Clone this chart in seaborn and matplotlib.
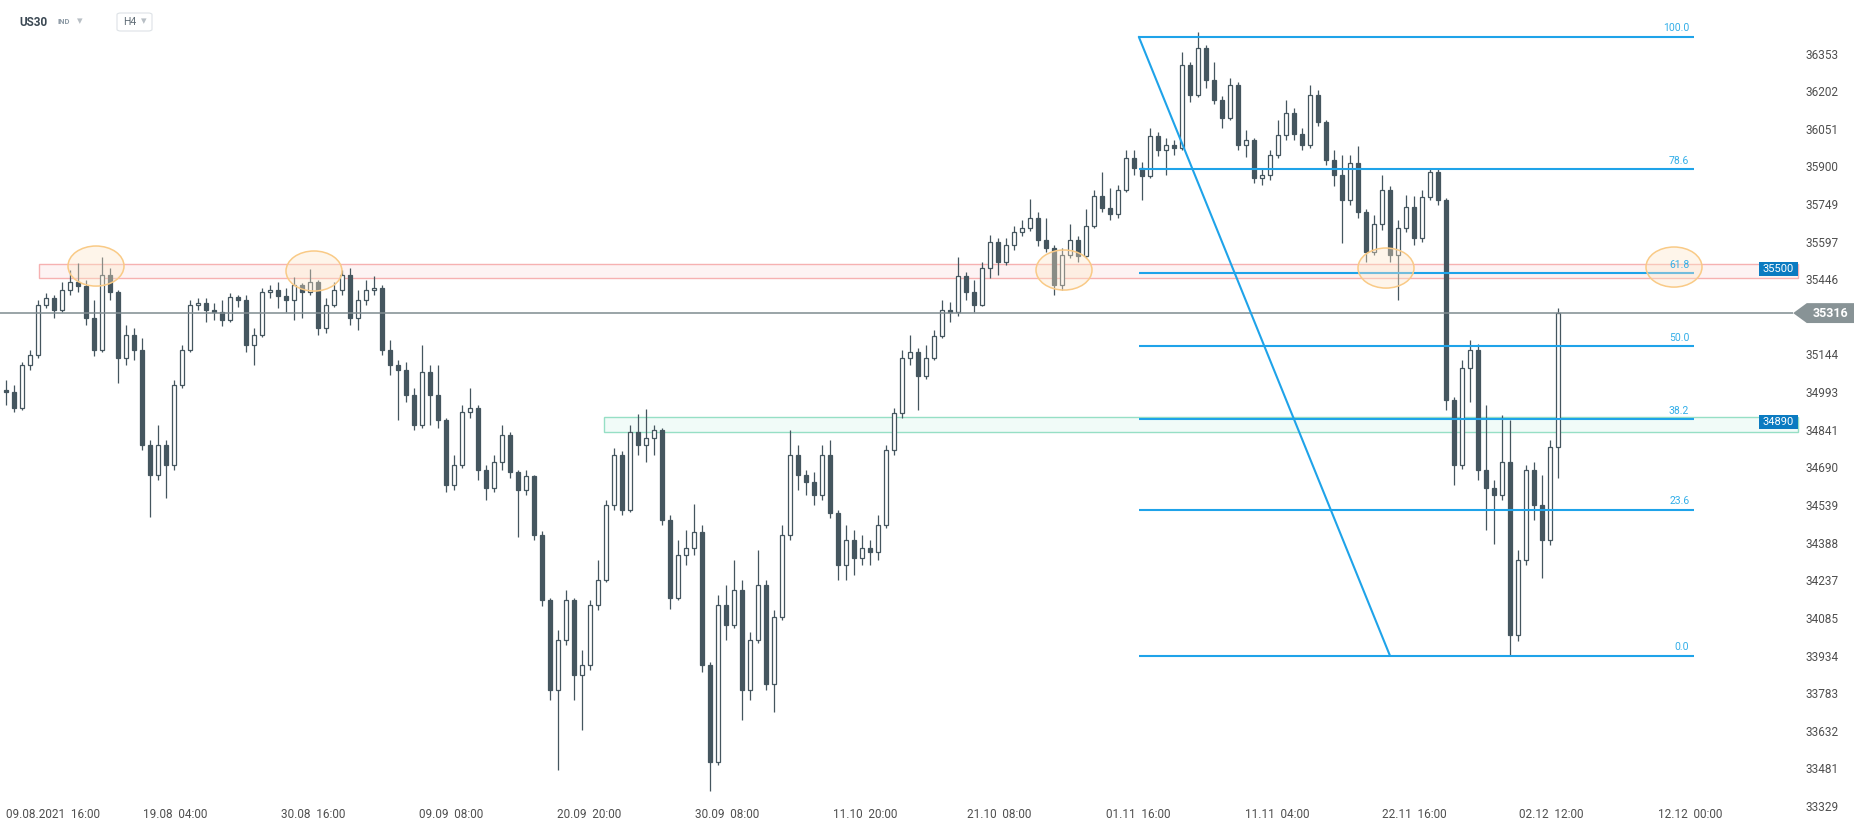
import numpy as np
import pandas as pd
import matplotlib
matplotlib.use("Agg")
import matplotlib.pyplot as plt
import matplotlib.transforms as mtransforms
from matplotlib.patches import Rectangle, Ellipse, Polygon, FancyBboxPatch
import seaborn as sns

# ---------------- data (US30, H4) ----------------
first_open = 35005
closes = [
    34999, 34935, 35108, 35147, 35349, 35377, 35329, 35409, 35441, 35425,
    35296, 35168, 35469, 35400, 35135, 35228, 35168, 34786, 34665, 34786,
    34706, 35027, 35168, 35349, 35357, 35329, 35320, 35288, 35381, 35369,
    35188, 35228, 35400, 35409, 35384, 35369, 35429, 35400, 35441, 35256,
    35349, 35409, 35469, 35296, 35369, 35409, 35417, 35168, 35108, 35088,
    34987, 34867, 35079, 34987, 34886, 34626, 34706, 34918, 34935, 34686,
    34614, 34718, 34826, 34677, 34606, 34661, 34424, 34163, 33802, 34002,
    34163, 33862, 33902, 34143, 34244, 34545, 34746, 34525, 34838, 34786,
    34814, 34847, 34485, 34171, 34344, 34373, 34436, 33902, 33512, 34143,
    34063, 34204, 33802, 34002, 34224, 33826, 34095, 34424, 34746, 34665,
    34637, 34585, 34746, 34512, 34304, 34404, 34332, 34373, 34356, 34465,
    34766, 34914, 35135, 35159, 35063, 35135, 35224, 35329, 35320, 35465,
    35400, 35349, 35498, 35602, 35521, 35590, 35641, 35658, 35698, 35610,
    35578, 35429, 35549, 35610, 35545, 35666, 35786, 35739, 35714, 35811,
    35939, 35899, 35867, 36027, 35972, 35992, 35980, 36313, 36192, 36381,
    36253, 36172, 36100, 36233, 35992, 36011, 35859, 35871, 35951, 36031,
    36120, 36035, 35992, 36192, 36084, 35931, 35871, 35770, 35919, 35722,
    35561, 35674, 35811, 35549, 35658, 35743, 35618, 35782, 35883, 35770,
    34967, 34706, 35096, 35168, 34686, 34614, 34585, 34718, 34022, 34324,
    34686, 34545, 34404, 34778, 35316,
]
highs = [
    35047, 35027, 35120, 35168, 35369, 35396, 35388, 35441, 35490, 35517,
    35449, 35369, 35541, 35498, 35409, 35268, 35256, 35216, 34806, 34867,
    34806, 35047, 35188, 35369, 35377, 35377, 35357, 35369, 35396, 35388,
    35388, 35256, 35417, 35429, 35441, 35417, 35461, 35437, 35494, 35449,
    35377, 35441, 35490, 35498, 35409, 35449, 35465, 35429, 35208, 35128,
    35120, 35015, 35188, 35108, 35108, 34894, 34746, 34947, 35015, 34947,
    34706, 34746, 34867, 34840, 34686, 34686, 34665, 34440, 34171, 34043,
    34204, 34171, 33962, 34163, 34324, 34565, 34774, 34760, 34867, 34910,
    34931, 34867, 34855, 34504, 34404, 34445, 34549, 34465, 33915, 34183,
    34224, 34324, 34244, 34034, 34365, 34244, 34124, 34465, 34847, 34786,
    34686, 34677, 34786, 34806, 34525, 34465, 34445, 34424, 34404, 34504,
    34786, 34935, 35168, 35228, 35176, 35188, 35249, 35369, 35361, 35541,
    35481, 35449, 35521, 35630, 35618, 35618, 35666, 35690, 35774, 35722,
    35698, 35590, 35578, 35674, 35626, 35735, 35811, 35883, 35819, 35831,
    35972, 35972, 35923, 36060, 36043, 36019, 36011, 36365, 36325, 36445,
    36395, 36325, 36188, 36261, 36245, 36052, 36019, 35899, 35972, 36092,
    36172, 36140, 36060, 36233, 36213, 36092, 35972, 35951, 35951, 35988,
    35735, 35710, 35871, 35827, 35690, 35790, 35786, 35811, 35899, 35899,
    35778, 34980, 35128, 35208, 35192, 34947, 34645, 34906, 34886, 34365,
    34706, 34718, 34665, 34806, 35337,
]
lows = [
    34947, 34918, 34927, 35088, 35135, 35337, 35296, 35320, 35388, 35400,
    35268, 35143, 35159, 35369, 35035, 35108, 35128, 34766, 34497, 34645,
    34573, 34686, 35015, 35159, 35329, 35280, 35288, 35264, 35280, 35341,
    35159, 35108, 35220, 35377, 35337, 35320, 35288, 35296, 35390, 35228,
    35236, 35341, 35388, 35268, 35249, 35349, 35388, 35147, 35067, 34886,
    34959, 34847, 34855, 34867, 34855, 34597, 34606, 34694, 34894, 34645,
    34565, 34597, 34686, 34653, 34416, 34585, 34404, 34139, 33761, 33481,
    33983, 33761, 33640, 33882, 34124, 34236, 34525, 34504, 34516, 34746,
    34718, 34746, 34465, 34127, 34163, 34304, 34344, 33875, 33395, 33500,
    34002, 34050, 33681, 33761, 33990, 33802, 33713, 34083, 34404, 34606,
    34585, 34545, 34565, 34493, 34244, 34244, 34263, 34304, 34304, 34324,
    34453, 34746, 34894, 35108, 34927, 35050, 35128, 35216, 35280, 35305,
    35369, 35320, 35345, 35457, 35469, 35509, 35570, 35626, 35645, 35586,
    35561, 35388, 35409, 35537, 35521, 35537, 35658, 35722, 35690, 35698,
    35802, 35871, 35770, 35859, 35947, 35871, 35951, 35972, 36164, 36184,
    36221, 36156, 36060, 36090, 35972, 35943, 35839, 35831, 35851, 35940,
    36011, 36011, 35972, 35980, 36068, 35911, 35827, 35598, 35751, 35698,
    35521, 35549, 35650, 35521, 35369, 35641, 35590, 35602, 35770, 35751,
    34927, 34626, 34690, 34959, 34645, 34445, 34388, 34565, 33938, 34000,
    34304, 34485, 34251, 34384, 34653,
]

price_ticks = [36353, 36202, 36051, 35900, 35749, 35597, 35446, 35295, 35144, 34993,
               34841, 34690, 34539, 34388, 34237, 34085, 33934, 33783, 33632, 33481, 33329]
date_tick_pos = [5.9, 21.1, 38.4, 55.6, 72.9, 90.1, 107.4, 124.2, 141.5, 158.9, 176.1, 193.2, 210.5]
date_labels = ["09.08.2021  16:00", "19.08  04:00", "30.08  16:00", "09.09  08:00",
               "20.09  20:00", "30.09  08:00", "11.10  20:00", "21.10  08:00",
               "01.11  16:00", "11.11  04:00", "22.11  16:00", "02.12  12:00", "12.12  00:00"]

resist_zone = [35456, 35512]
resist_label = "35500"
support_zone = [34840, 34897]
support_label = "34890"
last_price = 35316

fib_high, fib_low = 36426, 33939
fib_levels = [100.0, 78.6, 61.8, 50.0, 38.2, 23.6, 0.0]
fib_high_idx, fib_low_idx, fib_end_idx = 141.6, 173.0, 211.0

highlight_idx = [11.25, 38.5, 132.25, 172.5, 208.5]
highlight_price = [35505, 35485, 35489, 35497, 35501]

# ---------------- style ----------------
sns.set_theme(style="white")
plt.rcParams["font.family"] = ["Roboto", "DejaVu Sans"]

DARK = "#45565f"
FIB = "#1fa3e9"
LABEL = "#4f4f4f"

df = pd.DataFrame({"close": closes, "high": highs, "low": lows})
df["open"] = [first_open] + closes[:-1]
df["idx"] = np.arange(len(df))
df["up"] = df["close"] >= df["open"]
df["bottom"] = df[["open", "close"]].min(axis=1)
df["height"] = (df["close"] - df["open"]).abs().clip(lower=4)

fig = plt.figure(figsize=(18.66, 8.32), dpi=100)
ax = fig.add_axes([0, 0, 1, 1])
ax.set_xlim(-0.75, 232.5)
ax.set_ylim(33231, 36574)
for s in ax.spines.values():
    s.set_visible(False)
ax.grid(False)

# zones
ax.add_patch(Rectangle((4.1, resist_zone[0]), 224.0 - 4.1, resist_zone[1] - resist_zone[0],
                       fc="#fdf3f3", ec="#f6b1b1", lw=1.0, zorder=1))
ax.add_patch(Rectangle((74.75, support_zone[0]), 224.0 - 74.75, support_zone[1] - support_zone[0],
                       fc="#f1fbf8", ec="#96dfc5", lw=1.0, zorder=1))

# candles
ax.vlines(df["idx"], df["low"], df["high"], color=DARK, lw=0.9, zorder=2)
up = df[df["up"]]
dn = df[~df["up"]]
ax.bar(up["idx"], up["height"], bottom=up["bottom"], width=0.56, color="white",
       edgecolor=DARK, linewidth=0.9, zorder=3)
ax.bar(dn["idx"], dn["height"], bottom=dn["bottom"], width=0.56, color=DARK,
       edgecolor=DARK, linewidth=0.9, zorder=3)

# current price line
ax.hlines(last_price, -0.75, 223.4, color="#7f8b90", lw=1.1, zorder=3.5)

# fibonacci
ax.plot([fib_high_idx, fib_low_idx], [fib_high, fib_low], color=FIB, lw=1.5, zorder=4)
for lvl in fib_levels:
    p = fib_low + lvl / 100.0 * (fib_high - fib_low)
    ax.hlines(p, fib_high_idx, fib_end_idx, color=FIB, lw=1.5, zorder=4)
    ax.text(fib_end_idx - 0.6, p + 14, f"{lvl:.1f}", color="#33aee8", fontsize=7.5,
            ha="right", va="bottom", zorder=6)

# highlight ellipses
for hx, hp in zip(highlight_idx, highlight_price):
    ax.add_patch(Ellipse((hx, hp), 7.0, 161, fc="#fde6c8", alpha=0.38, ec="none", zorder=5))
    ax.add_patch(Ellipse((hx, hp), 7.0, 161, fc="none", ec="#f9ca86", lw=1.1, zorder=5))

# zone labels
for zone, lab in [(resist_zone, resist_label), (support_zone, support_label)]:
    mid = (zone[0] + zone[1]) / 2 + 10
    ax.add_patch(Rectangle((219.1, mid - 28), 4.9, 56, fc="#0b7bc1", ec="none", zorder=6))
    ax.text(221.55, mid, lab, color="white", fontsize=8, ha="center", va="center", zorder=7)

# price axis labels (right side)
ax.set_yticks([])
ytrans = mtransforms.blended_transform_factory(ax.transAxes, ax.transData)
for v in price_ticks:
    ax.text(1806 / 1866, v, str(v), transform=ytrans, fontsize=8.5, color=LABEL,
            ha="left", va="center", zorder=2)

# last price tag (covers the label underneath, as in the reference)
tag = Polygon([[223.4, last_price], [225.1, last_price + 40], [231.0, last_price + 40],
               [231.0, last_price - 40], [225.1, last_price - 40]],
              closed=True, fc="#889396", ec="none", zorder=6)
ax.add_patch(tag)
ax.text(228.0, last_price, f"{last_price}", color="white", fontsize=9, fontweight="bold",
        ha="center", va="center", zorder=7)

# time axis labels
ax.set_xticks(date_tick_pos)
ax.set_xticklabels(date_labels)
ax.tick_params(axis="x", length=0, pad=-17, labelsize=8.5, labelcolor=LABEL)

# header
W, H = 1866.0, 832.0
fig.text(19 / W, 1 - 22 / H, "US30", fontsize=8.5, fontweight="bold", color="#3b4853", va="center")
fig.text(57 / W, 1 - 22 / H, "IND", fontsize=5.5, fontweight="bold", color="#8e9ba6", va="center")
fig.text(77 / W, 1 - 21 / H, "\u25be", fontsize=8, color="#b8bfc5", va="center", family="DejaVu Sans")
fig.add_artist(FancyBboxPatch((117 / W, 1 - 31 / H), 35 / W, 18 / H,
                              boxstyle="round,pad=0,rounding_size=0.002",
                              transform=fig.transFigure, fc="white", ec="#dde2e6", lw=0.8))
fig.text(123 / W, 1 - 22 / H, "H4", fontsize=7.5, color="#5f6b75", va="center")
fig.text(141 / W, 1 - 21 / H, "\u25be", fontsize=8, color="#b8bfc5", va="center", family="DejaVu Sans")

fig.savefig("out.png", dpi=100, facecolor="white")
